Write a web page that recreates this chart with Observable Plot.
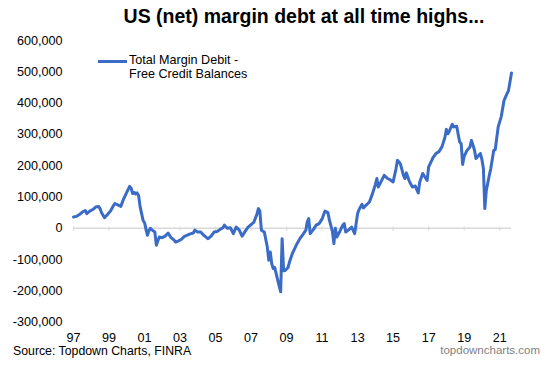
<!DOCTYPE html>
<html>
<head>
<meta charset="utf-8">
<script src="https://cdn.jsdelivr.net/npm/d3@7"></script>
<script src="https://cdn.jsdelivr.net/npm/@observablehq/plot@0.6"></script>
<style>
  html, body { margin: 0; padding: 0; background: #fff; }
  #wrap { position: relative; width: 551px; height: 367px; font-family: Arial, "Liberation Sans", sans-serif; color: #000; }
  #wrap svg { position: absolute; left: 0; top: 0; }
  .title { position: absolute; left: 0; width: 608px; top: 6.5px; text-align: center; font-size: 19.5px; line-height: 19.5px; font-weight: bold; white-space: nowrap; }
  .legend { position: absolute; left: 98px; top: 54px; font-size: 12.6px; line-height: 13.9px; }
  .legend .sw { position: absolute; left: 0; top: 6.2px; width: 29px; height: 3px; background: #3a6bc6; }
  .legend .lt { position: absolute; left: 31px; top: 0; white-space: nowrap; }
  .source { position: absolute; left: 13px; top: 345px; font-size: 12.3px; line-height: 12.3px; white-space: nowrap; }
  .brand { position: absolute; right: 11px; top: 344.6px; font-size: 11.5px; line-height: 11.5px; color: #7f7f7f; white-space: nowrap; }
</style>
</head>
<body>
<div id="wrap">
  <div class="title">US (net) margin debt at all time highs...</div>
  <div class="source">Source: Topdown Charts, FINRA</div>
  <div class="brand">topdowncharts.com</div>
</div>
<script>
// Net margin debt (Total Margin Debit - Free Credit Balances), USD millions
const months = [
  "1997-01","1997-03","1997-05","1997-07","1997-09","1997-10","1997-12",
  "1998-02","1998-04","1998-06","1998-07","1998-08","1998-10","1998-12",
  "1999-02","1999-04","1999-05","1999-07","1999-09","1999-11",
  "2000-01","2000-03","2000-04","2000-05","2000-06","2000-07","2000-08","2000-09","2000-10","2000-12",
  "2001-01","2001-03","2001-04","2001-05","2001-06","2001-08","2001-09","2001-10","2001-11",
  "2002-01","2002-03","2002-05","2002-07","2002-09","2002-10","2002-12",
  "2003-02","2003-04","2003-06","2003-08","2003-10","2003-11",
  "2004-01","2004-03","2004-05","2004-07","2004-08","2004-10","2004-12",
  "2005-02","2005-04","2005-06","2005-07","2005-09","2005-11",
  "2006-01","2006-03","2006-05","2006-07","2006-09","2006-11",
  "2007-01","2007-03","2007-05","2007-06","2007-07","2007-08","2007-10","2007-12",
  "2008-01","2008-02","2008-03","2008-04","2008-05","2008-06","2008-07","2008-09","2008-10","2008-11","2008-12",
  "2009-02","2009-03","2009-05","2009-07","2009-08","2009-10","2009-12",
  "2010-02","2010-03","2010-04","2010-05","2010-07","2010-09","2010-11",
  "2011-01","2011-03","2011-05","2011-06","2011-08","2011-09","2011-10","2011-11",
  "2012-01","2012-03","2012-04","2012-05","2012-07","2012-09","2012-11",
  "2013-01","2013-02","2013-04","2013-05","2013-07","2013-09","2013-11",
  "2014-01","2014-02","2014-03","2014-05","2014-07","2014-09","2014-11",
  "2015-01","2015-03","2015-04","2015-05","2015-06","2015-08","2015-09","2015-10","2015-12",
  "2016-02","2016-04","2016-06","2016-07","2016-09","2016-11","2016-12",
  "2017-01","2017-04","2017-06","2017-08","2017-10","2017-12",
  "2018-01","2018-02","2018-03","2018-05","2018-06","2018-08","2018-09","2018-10","2018-11","2018-12",
  "2019-01","2019-03","2019-05","2019-06","2019-08","2019-09","2019-12",
  "2020-01","2020-02","2020-03","2020-04","2020-06","2020-07","2020-09","2020-10","2020-12",
  "2021-02","2021-04","2021-06","2021-07","2021-09"
];
const netMarginK = [
  36,38,44,52,57,47,55,
  60,68,70,63,50,34,44,
  55,72,79,75,70,95,
  115,134,128,111,115,110,113,105,70,26,
  18,-22,-8,0,-5,-12,-54,-40,-28,
  -30,-25,-15,-30,-38,-44,-40,
  -35,-26,-22,-18,-15,-6,
  -12,-12,-22,-30,-33,-25,-12,
  -10,-4,2,10,0,2,
  -17,4,-5,-25,-10,4,
  12,20,45,63,55,-6,-12,-60,
  -102,-76,-113,-129,-125,-145,-165,-203,-33,-136,-135,
  -125,-108,-80,-60,-50,-33,-20,
  -6,20,31,-17,-5,10,15,
  30,55,50,26,-10,-49,0,-28,
  -10,10,15,-12,-5,4,-17,
  47,60,77,65,75,84,110,
  140,159,132,150,169,160,155,
  148,190,217,212,205,170,159,177,150,
  132,135,113,148,175,160,153,
  196,226,239,245,260,290,
  316,302,310,332,324,326,300,276,270,204,
  230,249,260,281,250,223,239,
  220,191,63,121,169,190,249,251,324,
  356,409,430,440,496
];
const tickYears = ["1997","1999","2001","2003","2005","2007","2009","2011","2013","2015","2017","2019","2021"];
const yTicks = [-300000,-200000,-100000,0,100000,200000,300000,400000,500000,600000];
const seriesName = ["Total Margin Debit -", "Free Credit Balances"];

const parse = d3.utcParse("%Y-%m");
const data = months.map((m, i) => ({date: parse(m), value: netMarginK[i] * 1000}));
const tickDates = tickYears.map(y => d3.utcParse("%Y")(y));

const chart = Plot.plot({
  width: 551,
  height: 367,
  marginTop: 40,
  marginBottom: 45.3,
  marginLeft: 73,
  marginRight: 40,
  style: {fontFamily: 'Arial, "Liberation Sans", sans-serif', fontSize: "12.6px", color: "#000", background: "transparent"},
  x: {type: "utc", domain: [parse("1997-01"), parse("2021-09")], label: null},
  y: {domain: [-300000, 600000], label: null},
  marks: [
    Plot.axisY(yTicks, {tickSize: 0, tickPadding: 11, tickFormat: d => d.toLocaleString("en-US"), fontSize: "12.6px", label: null}),
    Plot.axisX(tickDates, {anchor: "bottom", tickSize: 0, tickPadding: 11, tickFormat: d3.utcFormat("%y"), fontSize: "12.6px", label: null}),
    Plot.ruleY([0], {stroke: "#d9d9d9", strokeWidth: 1.5}),
    Plot.ruleX(tickDates, {y1: -9000, y2: 4000, stroke: "#d9d9d9", strokeWidth: 1.2}),
    Plot.line(data, {x: "date", y: "value", stroke: "#3a6bc6", strokeWidth: 3, strokeLinejoin: "round", strokeLinecap: "round"})
  ]
});
const wrap = document.getElementById("wrap");
wrap.insertBefore(chart, wrap.firstChild);

const legend = document.createElement("div");
legend.className = "legend";
legend.innerHTML = '<div class="sw"></div><div class="lt">' + seriesName.join("<br>") + '</div>';
wrap.appendChild(legend);
</script>
</body>
</html>
